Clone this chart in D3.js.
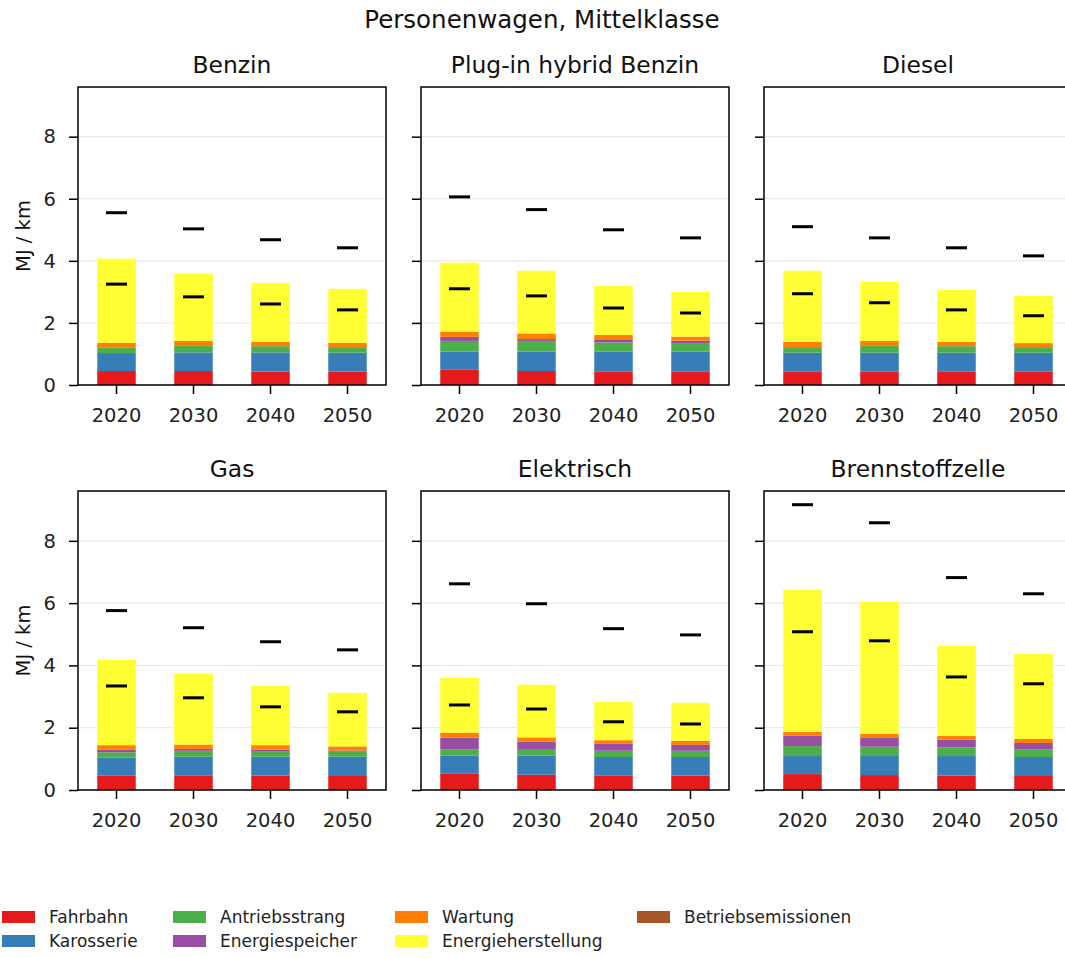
<!DOCTYPE html>
<meta charset="utf-8">
<style>
body { margin: 0; background: #fff; }
svg text { font-family: "DejaVu Sans", sans-serif; }
.grid line { stroke: #e6e6e6; stroke-width: 1px; }
.axis text { font-size: 19.5px; fill: #222; font-family: "DejaVu Sans", sans-serif; }
.axis line, .axis path { stroke: #000; }
.legend text { font-size: 17px; fill: #222; }
</style>
<svg width="1065" height="958"></svg>
<script src="https://d3js.org/d3.v7.min.js"></script>
<script>

var years = ["2020", "2030", "2040", "2050"];
var vehicles = ["Benzin", "Plug-in hybrid Benzin", "Diesel", "Gas", "Elektrisch", "Brennstoffzelle"];
var categories = ["Fahrbahn", "Karosserie", "Antriebsstrang", "Energiespeicher", "Wartung", "Energieherstellung", "Betriebsemissionen"];
var colors = ["#e41a1c", "#377eb8", "#4daf4a", "#984ea3", "#ff7f00", "#ffff33", "#a65628"];
var yTicks = [0, 2, 4, 6, 8];

// segment values per vehicle, one array per category, indexed by year
var fahrbahn = [
  [0.45, 0.45, 0.43, 0.43],
  [0.49, 0.45, 0.44, 0.44],
  [0.44, 0.44, 0.44, 0.44],
  [0.47, 0.47, 0.46, 0.45],
  [0.52, 0.49, 0.47, 0.46],
  [0.51, 0.48, 0.46, 0.45]
];
var karosserie = [
  [0.58, 0.60, 0.62, 0.61],
  [0.59, 0.63, 0.64, 0.64],
  [0.60, 0.60, 0.60, 0.60],
  [0.57, 0.60, 0.61, 0.62],
  [0.58, 0.61, 0.59, 0.60],
  [0.58, 0.61, 0.63, 0.61]
];
var antriebsstrang = [
  [0.17, 0.21, 0.20, 0.18],
  [0.34, 0.34, 0.29, 0.27],
  [0.18, 0.22, 0.21, 0.18],
  [0.17, 0.19, 0.18, 0.16],
  [0.21, 0.19, 0.20, 0.20],
  [0.32, 0.30, 0.28, 0.25]
];
var energiespeicher = [
  [0.00, 0.00, 0.00, 0.00],
  [0.13, 0.06, 0.08, 0.08],
  [0.00, 0.00, 0.00, 0.00],
  [0.08, 0.06, 0.05, 0.04],
  [0.37, 0.26, 0.22, 0.19],
  [0.34, 0.30, 0.25, 0.20]
];
var wartung = [
  [0.16, 0.16, 0.14, 0.14],
  [0.17, 0.18, 0.16, 0.13],
  [0.17, 0.16, 0.14, 0.13],
  [0.15, 0.14, 0.14, 0.13],
  [0.16, 0.14, 0.12, 0.13],
  [0.12, 0.11, 0.12, 0.13]
];
var energieherstellung = [
  [2.71, 2.16, 1.90, 1.74],
  [2.22, 2.02, 1.58, 1.44],
  [2.29, 1.90, 1.67, 1.52],
  [2.74, 2.27, 1.90, 1.72],
  [1.76, 1.69, 1.23, 1.22],
  [4.56, 4.24, 2.89, 2.73]
];
var betriebsemissionen = [
  [0, 0, 0, 0],
  [0, 0, 0, 0],
  [0, 0, 0, 0],
  [0, 0, 0, 0],
  [0, 0, 0, 0],
  [0, 0, 0, 0]
];
// black markers
var upperMark = [
  [5.55, 5.03, 4.68, 4.42],
  [6.06, 5.65, 5.00, 4.74],
  [5.10, 4.74, 4.42, 4.16],
  [5.76, 5.21, 4.76, 4.50],
  [6.62, 5.98, 5.18, 4.98],
  [9.16, 8.58, 6.82, 6.30]
];
var lowerMark = [
  [3.25, 2.84, 2.61, 2.42],
  [3.10, 2.87, 2.48, 2.32],
  [2.94, 2.65, 2.42, 2.23],
  [3.34, 2.96, 2.67, 2.51],
  [2.73, 2.60, 2.19, 2.12],
  [5.08, 4.79, 3.63, 3.41]
];

var series = [fahrbahn, karosserie, antriebsstrang, energiespeicher, wartung, energieherstellung, betriebsemissionen];

var svg = d3.select("svg");

svg.append("text")
    .attr("x", 542).attr("y", 28)
    .attr("text-anchor", "middle")
    .style("font-size", "24.5px").style("fill", "#111")
    .text("Personenwagen, Mittelklasse");

var pw = 308,
    panelLeft = [78, 421, 764],
    rows = [{top: 87, bottom: 385}, {top: 491, bottom: 790}];

vehicles.forEach(function(name, vi) {
  var col = vi % 3, row = Math.floor(vi / 3);
  var x0 = panelLeft[col], top = rows[row].top, bottom = rows[row].bottom;

  var x = d3.scaleBand().domain(years).range([x0, x0 + pw]).paddingInner(0.5).paddingOuter(0.25);
  var y = d3.scaleLinear().domain([0, 9.6]).range([bottom, top]);

  var g = svg.append("g");

  g.append("g").attr("class", "grid")
    .selectAll("line").data(yTicks).enter().append("line")
      .attr("x1", x0).attr("x2", x0 + pw)
      .attr("y1", function(d) { return y(d); })
      .attr("y2", function(d) { return y(d); });

  var rowsData = years.map(function(yr, i) {
    var o = {year: yr};
    categories.forEach(function(c, ci) { o[c] = series[ci][vi][i]; });
    return o;
  });
  var stacked = d3.stack().keys(categories)(rowsData);

  g.selectAll("g.layer").data(stacked).enter().append("g")
      .attr("class", "layer")
      .attr("fill", function(d, i) { return colors[i]; })
    .selectAll("rect").data(function(d) { return d; }).enter().append("rect")
      .attr("x", function(d) { return x(d.data.year); })
      .attr("width", x.bandwidth())
      .attr("y", function(d) { return y(d[1]); })
      .attr("height", function(d) { return y(d[0]) - y(d[1]); });

  [upperMark, lowerMark].forEach(function(m) {
    g.append("g").selectAll("line").data(years).enter().append("line")
      .attr("x1", function(d) { return x(d) + x.bandwidth() / 2 - 10.5; })
      .attr("x2", function(d) { return x(d) + x.bandwidth() / 2 + 10.5; })
      .attr("y1", function(d, i) { return y(m[vi][i]); })
      .attr("y2", function(d, i) { return y(m[vi][i]); })
      .attr("stroke", "#000").attr("stroke-width", 3);
  });

  g.append("rect")
      .attr("x", x0).attr("y", top).attr("width", pw).attr("height", bottom - top)
      .attr("fill", "none").attr("stroke", "#000").attr("stroke-width", 1.5);

  var xAxis = g.append("g").attr("class", "axis")
      .attr("transform", "translate(0," + bottom + ")")
      .call(d3.axisBottom(x).tickSize(9).tickPadding(14));
  xAxis.select(".domain").remove();
  xAxis.selectAll("line").attr("stroke-width", 1.5);

  var yAxis = g.append("g").attr("class", "axis")
      .attr("transform", "translate(" + x0 + ",0)")
      .call(d3.axisLeft(y).tickValues(yTicks).tickSize(9).tickPadding(13));
  yAxis.select(".domain").remove();
  yAxis.selectAll("line").attr("stroke-width", 1.5);
  if (col > 0) yAxis.selectAll("text").remove();

  g.append("text")
      .attr("x", x0 + pw / 2).attr("y", top - 14)
      .attr("text-anchor", "middle")
      .style("font-size", "23.4px").style("fill", "#111")
      .text(name);

  if (col === 0) {
    g.append("text")
        .attr("transform", "translate(30," + ((top + bottom) / 2) + ") rotate(-90)")
        .attr("text-anchor", "middle")
        .style("font-size", "19.5px").style("fill", "#111")
        .text("MJ / km");
  }
});

// legend, filled column by column
var legCols = [2, 173, 395, 637], legRows = [917, 941];
var legend = svg.append("g").attr("class", "legend");
categories.forEach(function(c, i) {
  var lx = legCols[Math.floor(i / 2)], ly = legRows[i % 2];
  legend.append("rect")
      .attr("x", lx).attr("y", ly - 6).attr("width", 33).attr("height", 12)
      .attr("fill", colors[i]);
  legend.append("text")
      .attr("x", lx + 47).attr("y", ly + 6)
      .text(c);
});

</script>
